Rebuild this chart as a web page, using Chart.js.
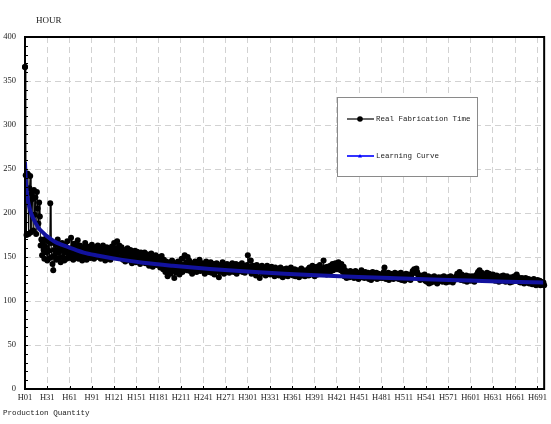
<!DOCTYPE html>
<html>
<head>
<meta charset="utf-8">
<script src="https://cdn.jsdelivr.net/npm/chart.js@4.4.1/dist/chart.umd.min.js"></script>
<style>
  html, body { margin: 0; padding: 0; background: #fff; }
</style>
</head>
<body>
<canvas id="chart" width="551" height="424"></canvas>
<script>
/* ===== Real fabrication time vs learning curve ===== */

// hours per unit, H01 .. H700 (20 per row)
const realHours = [
  366,243,175,245,244,176,228,242,178,222,216,180,226,198,218,176,224,205,188,212,
  196,163,170,152,166,158,148,162,171,155,146,168,157,149,211,166,150,142,135,158,
  152,164,147,158,170,155,149,161,144,157,166,150,159,146,163,155,148,168,160,151,
  156,149,172,160,153,147,165,158,150,162,155,169,148,157,163,152,159,146,161,154,
  150,166,158,147,162,155,152,160,149,157,164,151,156,148,161,153,158,150,163,155,
  152,160,148,157,154,163,150,158,146,155,161,149,156,152,159,147,154,162,150,157,
  166,155,160,152,168,158,150,163,156,149,161,154,147,158,152,145,156,150,160,148,
  153,146,158,150,143,155,148,152,157,144,150,156,147,153,149,142,155,148,151,145,
  150,155,143,148,153,146,152,140,149,145,154,147,139,150,144,148,152,141,146,150,
  143,148,138,145,151,140,136,147,142,133,145,139,128,141,136,144,131,138,146,134,
  140,126,137,143,132,139,145,135,130,142,137,148,133,141,136,152,138,144,135,150,
  139,146,134,141,137,131,143,138,135,145,140,133,142,136,139,147,134,140,137,143,
  136,142,131,139,145,135,138,133,141,137,144,132,139,135,142,130,138,136,143,134,
  139,127,136,141,133,138,144,135,131,140,137,134,142,136,139,132,141,138,135,143,
  137,133,140,136,142,131,138,135,141,134,139,136,143,133,137,140,132,138,135,141,
  152,136,139,134,146,131,137,140,133,138,135,129,141,136,134,139,126,137,133,140,
  135,131,138,133,129,136,140,132,134,137,130,135,139,131,136,133,128,138,134,131,
  136,132,129,135,138,130,133,127,136,131,134,129,137,132,128,135,130,133,138,131,
  134,129,132,136,128,133,130,135,131,127,134,130,137,132,129,135,131,128,133,130,
  132,136,129,138,133,130,135,140,131,134,128,137,132,139,130,135,133,141,136,131,
  134,137,146,132,138,135,130,139,133,136,131,140,134,138,142,135,141,137,143,139,
  141,136,144,138,140,135,142,137,133,139,128,135,131,126,133,129,132,127,134,130,
  131,128,133,126,130,134,127,131,129,125,132,128,130,135,127,129,131,126,133,128,
  130,127,132,125,129,131,124,128,133,126,130,127,129,132,125,128,131,126,129,127,
  130,126,129,133,138,128,125,130,127,132,124,129,131,126,128,130,125,127,132,128,
  126,129,131,125,128,127,132,124,130,126,129,123,128,131,125,127,130,126,128,124,
  129,131,134,133,136,132,135,137,133,130,126,128,124,129,127,125,128,126,130,123,
  127,122,125,128,120,124,126,121,127,123,125,128,122,126,124,120,125,127,123,126,
  124,127,122,125,128,123,126,121,125,127,124,122,126,128,123,125,121,126,124,127,
  125,128,131,126,129,133,127,124,130,126,128,123,127,125,129,122,126,124,128,125,
  123,126,128,124,127,122,125,129,126,131,133,128,135,130,127,132,126,129,124,127,
  130,127,132,125,128,131,126,129,124,127,130,125,128,123,126,129,124,127,122,126,
  125,128,123,126,129,124,127,122,125,128,123,126,124,121,125,127,122,126,124,128,
  123,126,130,124,127,122,125,121,124,126,122,125,120,123,126,121,124,122,125,120,
  123,121,124,119,122,125,120,123,118,122,124,119,121,123,118,122,120,119,121,118
];

// learning curve, read at selected units
const curveUnits = [1, 2, 3, 4, 5, 6, 8, 10, 12, 15, 20, 25, 30, 40, 50, 60, 80, 100,
                    130, 160, 200, 250, 300, 350, 400, 450, 500, 550, 600, 650, 700];
const curveHours = [258, 238, 227, 220, 214, 210, 203, 198, 194, 189, 182, 178, 174, 168, 164, 161, 155, 151.5,
                    147, 143.5, 140, 136.3, 133.4, 131.1, 129.1, 127.3, 125.8, 124.4, 123.2, 122, 121];

const xTickUnits  = [1, 31, 61, 91, 121, 151, 181, 211, 241, 271, 301, 331, 361, 391, 421, 451, 481, 511, 541, 571, 601, 631, 661, 691];
const xTickLabels = ['H01', 'H31', 'H61', 'H91', 'H121', 'H151', 'H181', 'H211', 'H241', 'H271', 'H301', 'H331',
                     'H361', 'H391', 'H421', 'H451', 'H481', 'H511', 'H541', 'H571', 'H601', 'H631', 'H661', 'H691'];
const yTicks = [0, 50, 100, 150, 200, 250, 300, 350, 400];

const seriesNames = ['Real Fabrication Time', 'Learning Curve'];
const yTitle = 'HOUR';
const xTitle = 'Production Quantity';

const CURVE_BLUE = '#12129e';
const MONO = '"Liberation Mono", "DejaVu Sans Mono", monospace';
const SERIF = '"Liberation Serif", "DejaVu Serif", serif';

// frame, minor ticks, axis titles and the boxed legend
const decor = {
  id: 'decor',
  afterDraw(chart) {
    const { ctx, chartArea: a, scales: { x, y } } = chart;
    ctx.save();

    ctx.strokeStyle = '#000';
    ctx.lineWidth = 1;
    ctx.beginPath();
    for (let v = 0; v <= 400; v += 10) {
      const py = Math.round(y.getPixelForValue(v)) + 0.5;
      ctx.moveTo(a.left, py);
      ctx.lineTo(a.left + 3, py);
    }
    xTickUnits.forEach(u => {
      const px = Math.round(x.getPixelForValue(u)) + 0.5;
      ctx.moveTo(px, a.bottom);
      ctx.lineTo(px, a.bottom - 3);
    });
    ctx.stroke();

    ctx.lineWidth = 2;
    ctx.strokeRect(a.left, a.top, a.right - a.left, a.bottom - a.top);

    // the first real point sits on the left axis, keep it on top of the frame
    const p0 = chart.getDatasetMeta(1).data[0];
    ctx.fillStyle = '#000';
    ctx.beginPath();
    ctx.arc(p0.x, p0.y, 3, 0, Math.PI * 2);
    ctx.fill();

    // titles
    ctx.fillStyle = '#222';
    ctx.textBaseline = 'middle';
    ctx.font = '9px ' + SERIF;
    ctx.fillText(yTitle, 36, 21);
    ctx.font = '7.6px ' + MONO;
    ctx.fillText(xTitle, 3, 413);

    // legend box
    const bx = a.left + 312, by = a.top + 60, bw = 140, bh = 79;
    ctx.fillStyle = '#fff';
    ctx.fillRect(bx, by, bw, bh);
    ctx.strokeStyle = '#8a8a8a';
    ctx.lineWidth = 1;
    ctx.strokeRect(bx + 0.5, by + 0.5, bw, bh);

    const rows = [
      { y: by + 22, color: '#000', marker: 'dot' },
      { y: by + 59, color: '#0000ff', marker: 'tri' }
    ];
    rows.forEach((r, i) => {
      ctx.strokeStyle = r.color;
      ctx.fillStyle = r.color;
      ctx.lineWidth = i === 0 ? 1.2 : 1.6;
      ctx.beginPath();
      ctx.moveTo(bx + 10, r.y);
      ctx.lineTo(bx + 37, r.y);
      ctx.stroke();
      ctx.beginPath();
      if (r.marker === 'dot') {
        ctx.arc(bx + 23, r.y, 2.8, 0, Math.PI * 2);
      } else {
        ctx.moveTo(bx + 23, r.y - 2);
        ctx.lineTo(bx + 25, r.y + 1.5);
        ctx.lineTo(bx + 21, r.y + 1.5);
        ctx.closePath();
      }
      ctx.fill();
      ctx.fillStyle = '#222';
      ctx.font = '7.5px ' + MONO;
      ctx.fillText(seriesNames[i], bx + 39, r.y);
    });

    ctx.restore();
  }
};

const realPoints  = realHours.map((h, i) => ({ x: i + 1, y: h }));
const curvePoints = curveUnits.map((u, i) => ({ x: u, y: curveHours[i] }));

new Chart(document.getElementById('chart').getContext('2d'), {
  type: 'line',
  data: {
    datasets: [
      {
        label: seriesNames[1],
        data: curvePoints,
        borderColor: CURVE_BLUE,
        backgroundColor: CURVE_BLUE,
        borderWidth: 4,
        pointRadius: 0,
        tension: 0.3,
        cubicInterpolationMode: 'monotone'
      },
      {
        label: seriesNames[0],
        data: realPoints,
        borderColor: '#000',
        backgroundColor: '#000',
        borderWidth: 1,
        pointRadius: 3,
        pointBorderWidth: 0,
        tension: 0,
        clip: 6
      }
    ]
  },
  plugins: [decor],
  options: {
    responsive: false,
    animation: false,
    layout: { padding: { top: 37, right: 6, left: 0, bottom: 0 } },
    plugins: { legend: { display: false }, tooltip: { enabled: false } },
    scales: {
      x: {
        type: 'linear',
        min: 1,
        max: 700,
        afterBuildTicks: s => { s.ticks = xTickUnits.map(v => ({ value: v })); },
        afterFit: s => { s.height = 35; },
        ticks: {
          autoSkip: false,
          maxRotation: 0,
          padding: 4,
          color: '#222',
          font: { family: SERIF, size: 8.5 },
          callback: (v, i) => xTickLabels[i]
        },
        grid: { color: '#d2d2d2', lineWidth: 1, drawTicks: false },
        border: { display: false, dash: [6, 4] }
      },
      y: {
        min: 0,
        max: 400,
        afterBuildTicks: s => { s.ticks = yTicks.map(v => ({ value: v })); },
        afterFit: s => { s.width = 25; },
        ticks: {
          padding: 9,
          color: '#222',
          font: { family: SERIF, size: 8.5 }
        },
        grid: { color: '#d2d2d2', lineWidth: 1, drawTicks: false },
        border: { display: false, dash: [6, 4] }
      }
    }
  }
});
</script>
</body>
</html>
